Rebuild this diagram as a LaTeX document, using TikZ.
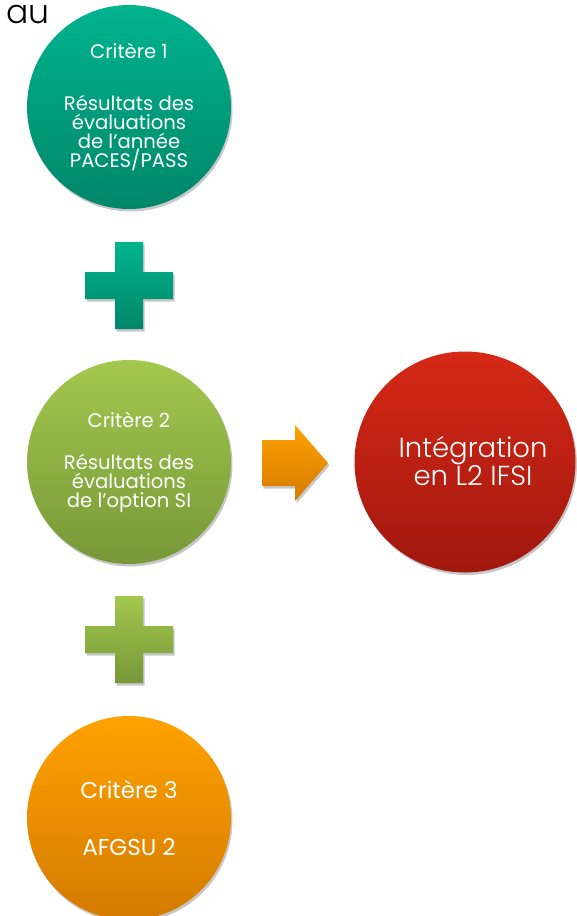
\documentclass[tikz,border=0pt]{standalone}
\usepackage{fontspec}
\setmainfont{Poppins}
\newfontfamily\lightfont{Poppins Light}
\usetikzlibrary{shadows}
\definecolor{tealT}{RGB}{0,180,142}
\definecolor{tealB}{RGB}{0,134,106}
\definecolor{grnT}{RGB}{163,200,78}
\definecolor{grnB}{RGB}{118,152,56}
\definecolor{redT}{RGB}{214,40,22}
\definecolor{redB}{RGB}{160,24,14}
\definecolor{orgT}{RGB}{255,162,0}
\definecolor{orgB}{RGB}{212,122,0}
\begin{document}
\begin{tikzpicture}[x=1pt,y=1pt,
  softshadow/.style={drop shadow={opacity=0.22,shadow xshift=1.5pt,shadow yshift=-2.5pt,fill=black}},
  bubble/.style={circle,minimum size=204pt,inner sep=0pt,text=white,align=center,
    font=\fontsize{19.6}{19}\selectfont,softshadow},
  tealfill/.style={top color=tealT,bottom color=tealB},
  grnfill/.style={top color=grnT,bottom color=grnB},
  redfill/.style={top color=redT,bottom color=redB},
  orgfill/.style={top color=orgT,bottom color=orgB},
]
\useasboundingbox (0,0) rectangle (576,-916);

\node[anchor=base west,font=\lightfont\fontsize{33}{33}\selectfont,text=black] (au) at (3,-23) {au};

% criteria circles
\node[bubble,tealfill] (c1) at (129,-107)
  {Critère 1\\[33pt]Résultats des\\évaluations\\de l’année\\PACES/PASS};
\node[bubble,grnfill] (c2) at (129,-462)
  {Critère 2\\[23pt]Résultats des\\évaluations\\de l’option SI};
\node[bubble,orgfill,font=\fontsize{23}{22}\selectfont] (c3) at (129,-818)
  {Critère 3\\[35pt]AFGSU 2};

% result circle
\node[bubble,redfill,minimum size=221pt] (res) at (465,-462) {};
\node[text=white,align=center,font=\lightfont\fontsize{27.5}{25}\selectfont] (restxt) at (473,-461)
  {Intégration\\en L2 IFSI};

% plus signs
\path[softshadow,tealfill] (115,-242) -- (143,-242) -- (143,-272) -- (173,-272) -- (173,-299)
  -- (143,-299) -- (143,-329) -- (115,-329) -- (115,-299) -- (85,-299) -- (85,-272)
  -- (115,-272) -- cycle;
\begin{scope}[yshift=-354pt]
\path[softshadow,grnfill] (115,-242) -- (143,-242) -- (143,-272) -- (173,-272) -- (173,-299)
  -- (143,-299) -- (143,-329) -- (115,-329) -- (115,-299) -- (85,-299) -- (85,-272)
  -- (115,-272) -- cycle;
\end{scope}

% arrow
\path[softshadow,orgfill] (262,-440) -- (295,-440) -- (295,-425) -- (328,-463)
  -- (295,-501) -- (295,-486) -- (262,-486) -- cycle;
\end{tikzpicture}
\end{document}
